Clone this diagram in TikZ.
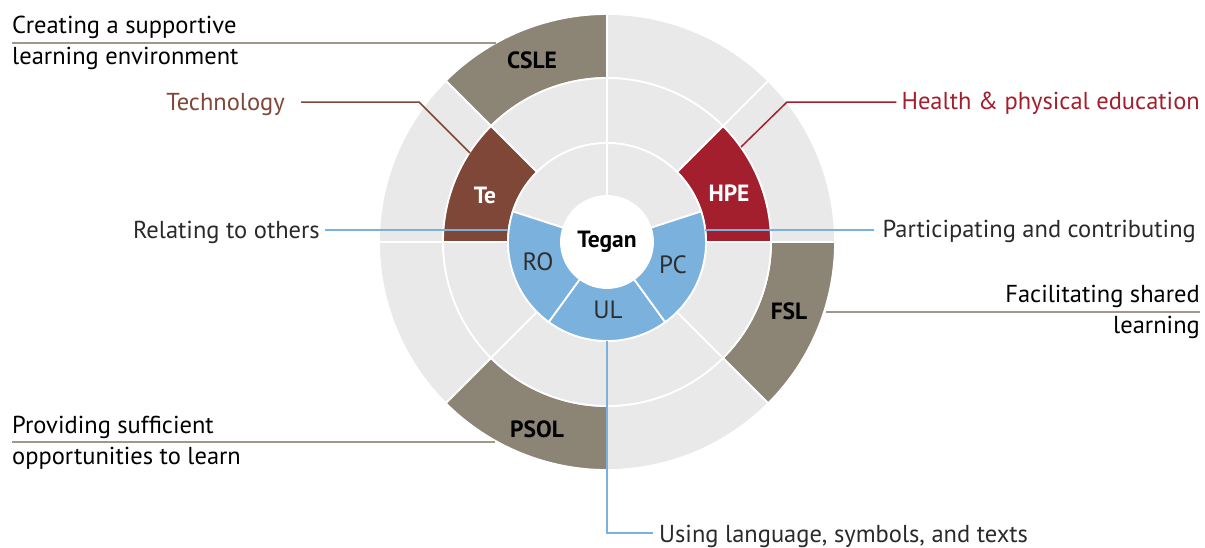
\documentclass[tikz,border=0pt]{standalone}
\usepackage{fontspec}
\setmainfont{PT Sans}
\usetikzlibrary{calc}
\definecolor{segfill}{HTML}{E9E9E9}
\definecolor{taupe}{HTML}{8C8575}
\definecolor{taupeline}{HTML}{A09888}
\definecolor{tebrown}{HTML}{7E4737}
\definecolor{hpered}{HTML}{A41F2E}
\definecolor{bluefill}{HTML}{7BB2DD}
\definecolor{txtdark}{HTML}{2A2A2A}
\definecolor{segtxt}{HTML}{2E2E2E}
\newcommand\ringseg[5]{\path[fill=#1,draw=white,line width=1.8pt] ($(C)+(#2:#4)$) arc[start angle=#2,end angle=#3,radius=#4] -- ($(C)+(#3:#5)$) arc[start angle=#3,end angle=#2,radius=#5] -- cycle;}
\tikzset{
  lab/.style={font=\fontsize{24.5}{28}\selectfont, text=txtdark, inner sep=0pt},
  seglab/.style={font=\fontsize{23.5}{26}\selectfont\bfseries, text=black, inner sep=0pt},
  bluelab/.style={font=\fontsize{25}{28}\selectfont, text=segtxt, inner sep=0pt},
  taupeln/.style={draw=taupeline, line width=2pt},
  blueln/.style={draw=bluefill, line width=1.5pt},
  teln/.style={draw=tebrown, line width=1.5pt},
  hpeln/.style={draw=hpered, line width=1.5pt}
}
\begin{document}
\begin{tikzpicture}[x=1pt,y=1pt]
\useasboundingbox (0,0) rectangle (1205,-547);
\fill[white] (0,0) rectangle (1205,-547);
\coordinate (C) at (607,-242);
% ring 3 (outer)
\ringseg{segfill}{0}{45}{164}{228}
\ringseg{segfill}{45}{90}{164}{228}
\ringseg{taupe}{90}{135}{164}{228}
\ringseg{segfill}{135}{180}{164}{228}
\ringseg{segfill}{180}{225}{164}{228}
\ringseg{taupe}{225}{270}{164}{228}
\ringseg{segfill}{270}{315}{164}{228}
\ringseg{taupe}{315}{360}{164}{228}
% ring 2
\ringseg{hpered}{0}{45}{99}{164}
\ringseg{segfill}{45}{90}{99}{164}
\ringseg{segfill}{90}{135}{99}{164}
\ringseg{tebrown}{135}{180}{99}{164}
\ringseg{segfill}{180}{225}{99}{164}
\ringseg{segfill}{225}{270}{99}{164}
\ringseg{segfill}{270}{315}{99}{164}
\ringseg{segfill}{315}{360}{99}{164}
% ring 1
\ringseg{segfill}{18}{90}{46}{99}
\ringseg{segfill}{90}{162}{46}{99}
\ringseg{bluefill}{162}{234}{46}{99}
\ringseg{bluefill}{234}{306}{46}{99}
\ringseg{bluefill}{306}{378}{46}{99}
\fill[white] (C) circle[radius=46];
% segment labels
\node[seglab] (tegan) at (607,-242) {Tegan};
\node[seglab] (csle) at (532,-60) {CSLE};
\node[seglab,text=white] (te) at (485,-195) {Te};
\node[seglab,text=white] (hpe) at (729,-193) {HPE};
\node[seglab] (fsl) at (789,-311) {FSL};
\node[seglab] (psol) at (537,-429) {PSOL};
\node[bluelab] (ro) at (538,-262) {RO};
\node[bluelab] (pc) at (673,-265) {PC};
\node[bluelab] (ul) at (608,-310) {UL};
% leader anchor points
\coordinate (csleA) at (496,-43);
\coordinate (teA) at (470,-153);
\coordinate (teB) at (419,-102);
\coordinate (hpeA) at (741,-147);
\coordinate (hpeB) at (787,-102);
\coordinate (roA) at (508,-230);
\coordinate (pcA) at (705,-230);
\coordinate (fslA) at (826,-312);
\coordinate (psolA) at (495,-442);
\coordinate (ulA) at (607,-341);
\coordinate (ulB) at (607,-533);
% outer labels
\node[lab,text=black,anchor=base west] (cslet1) at (12,-33) {Creating a supportive};
\node[lab,text=black,anchor=base west] (cslet2) at (12,-64) {learning environment};
\draw[taupeln] (cslet1.west |- csleA) -- (csleA);
\node[lab,text=tebrown,anchor=base east] (tech) at (285,-110) {Technology};
\draw[teln] ($(tech.east |- teB)+(16,0)$) -- (teB) -- (teA);
\node[lab,text=hpered,anchor=base east] (hpet) at (1200,-109) {Health \& physical education};
\draw[hpeln] ($(hpet.west |- hpeB)+(-5,0)$) -- (hpeB) -- (hpeA);
\node[lab,anchor=base east] (rot) at (320,-238) {Relating to others};
\draw[blueln] ($(rot.east |- roA)+(5,0)$) -- (roA);
\node[lab,anchor=base east] (pct) at (1196,-237) {Participating and contributing};
\draw[blueln] ($(pct.west |- pcA)+(-8,0)$) -- (pcA);
\node[lab,text=black,anchor=base east] (fslt1) at (1200,-302) {Facilitating shared};
\node[lab,text=black,anchor=base east] (fslt2) at (1200,-333) {learning};
\draw[taupeln] (fslA) -- (fslt1.east |- fslA);
\node[lab,text=black,anchor=base west] (psolt1) at (12,-433) {Providing sufficient};
\node[lab,text=black,anchor=base west] (psolt2) at (12,-464) {opportunities to learn};
\draw[taupeln] (psolt1.west |- psolA) -- (psolA);
\node[lab,anchor=base west] (ult) at (659,-542) {Using language, symbols, and texts};
\draw[blueln] (ulA) -- (ulB) -- ($(ult.west |- ulB)+(-6,0)$);
\end{tikzpicture}
\end{document}
